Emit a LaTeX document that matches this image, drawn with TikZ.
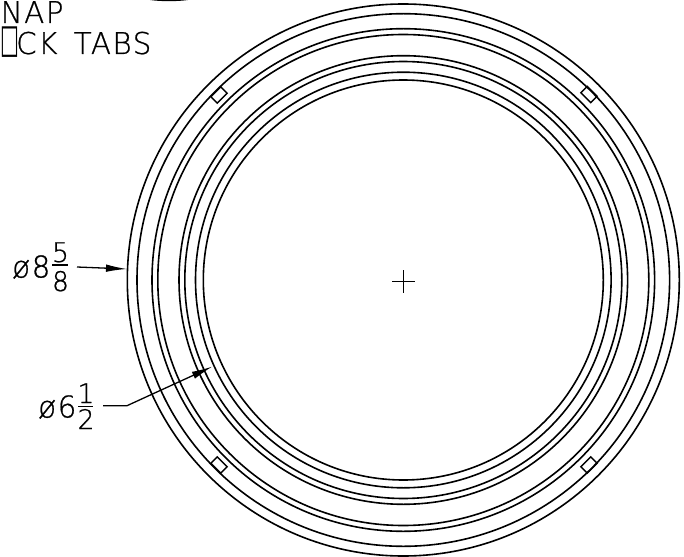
\documentclass[tikz,border=0pt]{standalone}
\usepackage{fontspec}
\usetikzlibrary{arrows.meta}
\newfontface\cadfont[FakeStretch=0.98,FakeBold=0.7,LetterSpace=5]{DejaVu Sans ExtraLight}
\newfontface\boxfont{DejaVu Sans}
\tikzset{
  ring/.style={draw=black,line width=1.6pt},
  tabbox/.style={draw=black,line width=1.3pt,minimum width=14pt,minimum height=9pt,inner sep=0pt,rotate=#1},
  cad/.style={inner sep=0pt,font=\cadfont\fontsize{30}{30}\selectfont,anchor=base west},
  cadsmall/.style={inner sep=0pt,font=\cadfont\fontsize{27}{27}\selectfont,anchor=base},
  lead/.style={draw=black,line width=1.3pt},
  tip/.style={-{Latex[length=21pt,width=7.5pt]}},
  fracbar/.style={draw=black,line width=1.3pt}
}
\begin{document}
\begin{tikzpicture}[x=1pt,y=-1pt]
\useasboundingbox (0,0) rectangle (684,556);
\clip (0,0) rectangle (684,556);
\coordinate (c) at (403.3,280);
\foreach \r in {200,207.8,218.5,224.3,245.5,251.3,266.3,276}{
  \draw[ring] (c) circle[radius=\r];
}
\draw[line width=1.4pt] (392,281.5) -- (415,281.5) (403.5,270) -- (403.5,293);
\node[tabbox=45] (t1) at (219,95) {};
\node[tabbox=-45] (t2) at (589,94.5) {};
\node[tabbox=-45] (t3) at (219,465) {};
\node[tabbox=45] (t4) at (589,465) {};
\fill[black] (150,0) .. controls (162,1.6) and (176,1.6) .. (188,0) -- cycle;
\node[cad] (snap) at (0.5,23) {NAP};
\node[cad] (tabs) at (73.5,54) {TABS};
\node[cad] (ck) at (16,54) {CK};
\node[inner sep=0pt,anchor=base west,font=\boxfont\fontsize{25}{25}\selectfont] (lock) at (0.3,53) {\scalebox{0.8}[1.6]{□}};
\node[cad] (d1) at (12,277.5) {ø8};
\node[cadsmall] (n1) at (60.5,262) {5};
\node[cadsmall] (m1) at (60.5,291) {8};
\draw[fracbar] (52,265) -- (68,265);
\coordinate (a1s) at (77,267);
\coordinate (a1e) at (127,269);
\draw[lead,tip] (a1s) -- (a1e);
\node[cad] (d2) at (38,417.5) {ø6};
\node[cadsmall] (n2) at (86,403) {1};
\node[cadsmall] (m2) at (86,429) {2};
\draw[fracbar] (78,406.5) -- (93,406.5);
\coordinate (a2s) at (103,405.7);
\coordinate (a2k) at (127,405.7);
\coordinate (a2e) at (212.5,366.5);
\draw[lead,tip] (a2s) -- (a2k) -- (a2e);
\end{tikzpicture}
\end{document}
